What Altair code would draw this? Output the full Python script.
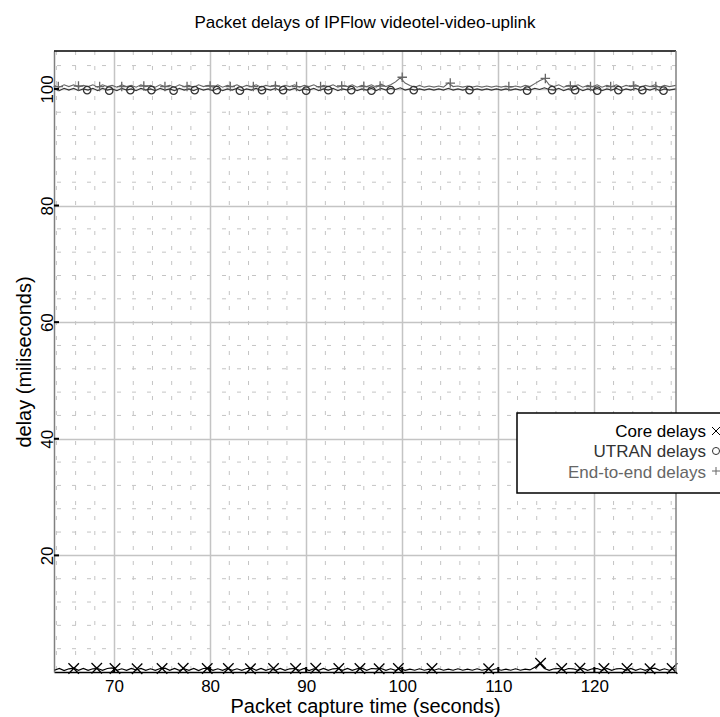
import altair as alt
import pandas as pd

# ---------------- data ----------------
line_time = [
    63.8, 64.3, 64.8, 65.3, 65.8, 66.3, 66.8, 67.3, 67.8, 68.3,
    68.8, 69.3, 69.8, 70.3, 70.8, 71.3, 71.8, 72.3, 72.8, 73.3,
    73.8, 74.3, 74.8, 75.3, 75.8, 76.3, 76.8, 77.3, 77.8, 78.3,
    78.8, 79.3, 79.8, 80.3, 80.8, 81.3, 81.8, 82.3, 82.8, 83.3,
    83.8, 84.3, 84.8, 85.3, 85.8, 86.3, 86.8, 87.3, 87.8, 88.3,
    88.8, 89.3, 89.8, 90.3, 90.8, 91.3, 91.8, 92.3, 92.8, 93.3,
    93.8, 94.3, 94.8, 95.3, 95.8, 96.3, 96.8, 97.3, 97.8, 98.3,
    98.8, 99.3, 99.8, 100.3, 100.8, 101.3, 101.8, 102.3, 102.8, 103.3,
    103.8, 104.3, 104.8, 105.3, 105.8, 106.3, 106.8, 107.3, 107.8, 108.3,
    108.8, 109.3, 109.8, 110.3, 110.8, 111.3, 111.8, 112.3, 112.8, 113.3,
    113.8, 114.3, 114.8, 115.3, 115.8, 116.3, 116.8, 117.3, 117.8, 118.3,
    118.8, 119.3, 119.8, 120.3, 120.8, 121.3, 121.8, 122.3, 122.8, 123.3,
    123.8, 124.3, 124.8, 125.3, 125.8, 126.3, 126.8, 127.3, 127.8, 128.5,
]
core_line = [
    0.3, 0.6, 0.25, 0.55, 0.65, 0.3, 0.6, 0.3, 0.55, 0.6,
    0.3, 0.6, 0.7, 0.3, 0.55, 0.3, 0.6, 0.35, 0.6, 0.3,
    0.55, 0.3, 0.6, 0.65, 0.3, 0.6, 0.3, 0.55, 0.3, 0.6,
    0.25, 0.6, 0.65, 0.3, 0.55, 0.3, 0.6, 0.3, 0.55, 0.3,
    0.6, 0.65, 0.3, 0.6, 0.3, 0.55, 0.3, 0.6, 0.3, 0.55,
    0.6, 0.3, 0.6, 0.25, 0.55, 0.3, 0.6, 0.3, 0.55, 0.6,
    0.3, 0.6, 0.3, 0.55, 0.65, 0.3, 0.6, 0.55, 0.6, 0.3,
    0.55, 0.3, 0.6, 0.3, 0.5, 0.3, 0.55, 0.3, 0.5, 0.3,
    0.55, 0.3, 0.5, 0.3, 0.55, 0.3, 0.5, 0.3, 0.55, 0.3,
    0.5, 0.3, 0.55, 0.3, 0.5, 0.3, 0.55, 0.3, 0.5, 0.35,
    0.8, 1.5, 0.6, 0.3, 0.55, 0.6, 0.3, 0.6, 0.55, 0.3,
    0.6, 0.3, 0.55, 0.6, 0.3, 0.6, 0.3, 0.55, 0.6, 0.3,
    0.6, 0.3, 0.55, 0.3, 0.6, 0.65, 0.3, 0.55, 0.3, 0.6,
]
utran_line = [
    100.0, 99.7, 100.1, 99.8, 100.1, 99.7, 100.0, 99.8, 100.1, 99.7,
    100.1, 99.8, 100.0, 99.7, 100.1, 99.8, 100.0, 99.7, 100.1, 99.8,
    100.0, 99.7, 100.1, 99.8, 100.0, 99.7, 100.1, 99.8, 100.0, 99.7,
    100.1, 99.8, 100.0, 99.7, 100.1, 99.7, 100.0, 99.8, 100.1, 99.7,
    100.0, 99.8, 100.1, 99.7, 100.0, 99.8, 100.1, 99.7, 100.0, 99.8,
    100.1, 99.7, 100.0, 99.8, 100.1, 99.7, 100.0, 99.8, 100.1, 99.7,
    100.0, 99.8, 100.1, 99.7, 100.0, 99.8, 100.1, 99.7, 100.1, 99.8,
    100.1, 99.9, 100.2, 99.8, 100.0, 99.8, 100.0, 99.8, 100.0, 99.8,
    100.0, 99.8, 100.1, 99.8, 100.0, 99.8, 100.0, 99.8, 100.0, 99.8,
    100.0, 99.8, 100.0, 99.8, 100.0, 99.8, 100.0, 99.8, 100.0, 99.8,
    100.1, 99.9, 100.2, 99.9, 99.8, 100.1, 99.7, 100.0, 99.8, 100.1,
    99.7, 100.0, 99.8, 100.1, 99.7, 100.0, 99.8, 100.1, 99.7, 100.0,
    99.8, 100.1, 99.7, 100.0, 99.8, 100.1, 99.7, 100.0, 99.8, 100.0,
]
e2e_line = [
    100.6, 100.3, 100.7, 100.4, 100.7, 100.3, 100.6, 100.4, 100.7, 100.3,
    100.7, 100.4, 100.6, 100.3, 100.7, 100.4, 100.6, 100.3, 100.7, 100.4,
    100.6, 100.3, 100.7, 100.4, 100.6, 100.3, 100.7, 100.4, 100.6, 100.3,
    100.7, 100.4, 100.6, 100.3, 100.7, 100.3, 100.6, 100.4, 100.7, 100.3,
    100.6, 100.4, 100.7, 100.3, 100.6, 100.4, 100.7, 100.3, 100.6, 100.4,
    100.7, 100.3, 100.6, 100.4, 100.7, 100.3, 100.6, 100.4, 100.7, 100.3,
    100.6, 100.4, 100.7, 100.3, 100.6, 100.4, 100.7, 100.3, 100.8, 100.4,
    100.7, 101.2, 101.9, 101.0, 100.6, 100.3, 100.6, 100.3, 100.5, 100.3,
    100.5, 100.3, 101.0, 100.4, 100.5, 100.3, 100.5, 100.3, 100.5, 100.3,
    100.5, 100.3, 100.5, 100.3, 100.5, 100.3, 100.5, 100.3, 100.6, 100.4,
    100.9, 101.4, 101.8, 100.7, 100.4, 100.7, 100.3, 100.6, 100.4, 100.7,
    100.3, 100.6, 100.4, 100.7, 100.3, 100.6, 100.4, 100.7, 100.3, 100.6,
    100.4, 100.7, 100.3, 100.6, 100.4, 100.7, 100.3, 100.6, 100.4, 100.6,
]

core_mark_t = [65.8, 68.2, 70.1, 72.4, 75.0, 77.2, 79.7, 81.9, 84.2, 86.6, 88.9, 91.0, 93.4,
               95.6, 97.6, 99.6, 103.1, 109.0, 114.4, 116.6, 118.5, 121.0, 123.4, 125.8, 128.1]
core_mark_v = [0.6, 0.65, 0.6, 0.55, 0.6, 0.65, 0.6, 0.6, 0.55, 0.6, 0.6, 0.65, 0.6,
               0.6, 0.55, 0.6, 0.6, 0.55, 1.5, 0.6, 0.65, 0.6, 0.6, 0.55, 0.6]
utran_mark_t = [67.2, 69.5, 71.7, 73.9, 76.2, 78.4, 80.7, 83.1, 85.4, 87.6, 90.0, 92.3,
                94.7, 96.8, 98.8, 101.2, 107.0, 113.0, 115.6, 118.0, 120.3, 122.5, 125.0, 127.2]
utran_mark_v = [99.8, 99.7, 99.8, 99.8, 99.7, 99.8, 99.8, 99.7, 99.8, 99.8, 99.7, 99.8,
                99.8, 99.7, 99.8, 99.8, 99.8, 99.7, 99.8, 99.8, 99.7, 99.8, 99.8, 99.7]
e2e_mark_t = [64.2, 66.3, 68.5, 70.8, 73.1, 75.3, 77.6, 80.0, 82.1, 84.5, 86.8, 89.0, 91.5,
              93.7, 96.0, 97.7, 100.0, 105.0, 111.1, 114.9, 117.5, 119.6, 121.7, 124.1, 126.4]
e2e_mark_v = [100.4, 100.5, 100.4, 100.4, 100.5, 100.4, 100.4, 100.5, 100.4, 100.4, 100.5, 100.4, 100.4,
              100.5, 100.4, 100.5, 102.0, 101.0, 100.4, 101.8, 100.5, 100.4, 100.4, 100.5, 100.4]

x_major = [70, 80, 90, 100, 110, 120]
y_major = [20, 40, 60, 80, 100]
x_minor = [64, 66, 68, 72, 74, 76, 78, 82, 84, 86, 88, 92, 94, 96, 98, 102, 104, 106, 108,
           112, 114, 116, 118, 122, 124, 126, 128]
y_minor = [4, 8, 12, 16, 24, 28, 32, 36, 44, 48, 52, 56, 64, 68, 72, 76, 84, 88, 92, 96, 104]
legend_labels = ["Core delays", "UTRAN delays", "End-to-end delays"]
title_text = "Packet delays of IPFlow videotel-video-uplink"

# ---------------- styling ----------------
W, H = 622, 621
FONT = "Liberation Sans"
C_CORE, C_UTRAN, C_E2E = "#000000", "#333333", "#666666"
XSHAPE = "M-1,-1L1,1M-1,1L1,-1"
PSHAPE = "M-1,0L1,0M0,-1L0,1"

xs = alt.Scale(domain=[63.75, 128.5], nice=False, zero=False)
ys = alt.Scale(domain=[0, 106.5], nice=False, zero=False)

x_axis = alt.Axis(values=x_major, grid=True, gridColor="#c4c4c4", gridWidth=1.5,
                  ticks=False, tickSize=0, domain=True, domainColor="#000000", domainWidth=1.5,
                  labelFont=FONT, labelFontSize=17, labelColor="#000000", labelPadding=19,
                  labelBaseline="alphabetic", labelAngle=0, labelFlush=False, labelOverlap=False,
                  format="d", title="Packet capture time (seconds)", titleFont=FONT,
                  titleFontSize=20, titleFontWeight="normal", titleColor="#000000",
                  titleX=311, titleY=40, titleBaseline="alphabetic", titleAlign="center")
y_axis = alt.Axis(values=y_major, grid=True, gridColor="#c4c4c4", gridWidth=1.5,
                  ticks=False, tickSize=0, domain=True, domainColor="#808080", domainWidth=1.5,
                  labelFont=FONT, labelFontSize=17, labelColor="#000000", labelPadding=2,
                  labelAngle=270, labelAlign="center", labelBaseline="alphabetic",
                  labelFlush=False, labelOverlap=False, format="d",
                  title="delay (miliseconds)", titleFont=FONT, titleFontSize=20,
                  titleFontWeight="normal", titleColor="#000000", titleAngle=270,
                  titleX=-24, titleY=310.5, titleBaseline="alphabetic", titleAlign="center")


def X(field):
    return alt.X(field, scale=xs, axis=x_axis)


def Y(field):
    return alt.Y(field, scale=ys, axis=y_axis)


one = pd.DataFrame({"k": [0]})

# minor dashed grid
vminor = alt.Chart(pd.DataFrame({"x": x_minor})).mark_rule(
    color="#c4c4c4", strokeWidth=1, strokeDash=[4, 11]
).encode(x=X("x:Q"))
hminor = alt.Chart(pd.DataFrame({"y": y_minor})).mark_rule(
    color="#c4c4c4", strokeWidth=1, strokeDash=[4, 11]
).encode(y=Y("y:Q"))


def series(times, vals, color, width):
    df = pd.DataFrame({"x": times, "y": vals})
    return alt.Chart(df).mark_line(color=color, strokeWidth=width, clip=True).encode(
        x=X("x:Q"), y=Y("y:Q"))


def markers(times, vals, color, shape, size):
    df = pd.DataFrame({"x": times, "y": vals})
    return alt.Chart(df).mark_point(shape=shape, filled=False, size=size, color=color,
                                    strokeWidth=1.3, opacity=1).encode(
        x=X("x:Q"), y=Y("y:Q"))


l_e2e = series(line_time, e2e_line, C_E2E, 1.1)
l_utran = series(line_time, utran_line, C_UTRAN, 1.1)
l_core = series(line_time, core_line, C_CORE, 1.2)
m_e2e = markers(e2e_mark_t, e2e_mark_v, C_E2E, PSHAPE, 90)
m_utran = markers(utran_mark_t, utran_mark_v, C_UTRAN, "circle", 55)
m_core = markers(core_mark_t, core_mark_v, C_CORE, XSHAPE, 110)

# frame (top black, right gray)
top_line = alt.Chart(one).mark_rule(color="#000000", strokeWidth=1.5).encode(
    x=alt.value(0), x2=alt.value(W), y=alt.value(0))
right_line = alt.Chart(one).mark_rule(color="#808080", strokeWidth=1.5).encode(
    x=alt.value(W), y=alt.value(0), y2=alt.value(H))

# inward ticks
xticks = alt.Chart(pd.DataFrame({"x": x_major})).mark_rule(color="#000000", strokeWidth=2).encode(
    x=X("x:Q"), y=alt.value(H - 5), y2=alt.value(H))
yticks = alt.Chart(pd.DataFrame({"y": y_major})).mark_rule(color="#000000", strokeWidth=2).encode(
    y=Y("y:Q"), x=alt.value(0), x2=alt.value(5))

# title as text
title_mark = alt.Chart(pd.DataFrame({"label": [title_text]})).mark_text(
    font=FONT, fontSize=17, align="center", baseline="alphabetic", color="#000000"
).encode(x=alt.value(W / 2), y=alt.value(-23), text="label:N")

# legend
leg_box = alt.Chart(one).mark_rect(fill="white", stroke="#000000", strokeWidth=1.5).encode(
    x=alt.value(463), x2=alt.value(700), y=alt.value(362), y2=alt.value(442))
leg_layers = [leg_box]
leg_colors = [C_CORE, C_UTRAN, C_E2E]
leg_y = [386, 406, 427]
leg_shapes = [XSHAPE, "circle", PSHAPE]
leg_sizes = [64, 50, 64]
leg_sym_y = [380, 400, 420]
for i, lab in enumerate(legend_labels):
    leg_layers.append(
        alt.Chart(pd.DataFrame({"label": [lab]})).mark_text(
            font=FONT, fontSize=17, align="right", baseline="alphabetic", color=leg_colors[i]
        ).encode(x=alt.value(652), y=alt.value(leg_y[i]), text="label:N"))
    leg_layers.append(
        alt.Chart(one).mark_point(shape=leg_shapes[i], filled=False, size=leg_sizes[i],
                                  color=leg_colors[i], strokeWidth=1, opacity=1).encode(
            x=alt.value(662), y=alt.value(leg_sym_y[i])))

chart = alt.layer(
    vminor, hminor,
    l_e2e, l_utran, l_core, m_e2e, m_utran, m_core,
    top_line, right_line, xticks, yticks, title_mark,
    *leg_layers
).properties(
    width=W, height=H,
    autosize=alt.AutoSizeParams(type="none"),
    padding={"left": 54, "top": 51, "right": 44, "bottom": 45},
    background="white",
).configure_view(stroke=None)

chart.save("out.html", embed_options={"renderer": "svg", "actions": False})
